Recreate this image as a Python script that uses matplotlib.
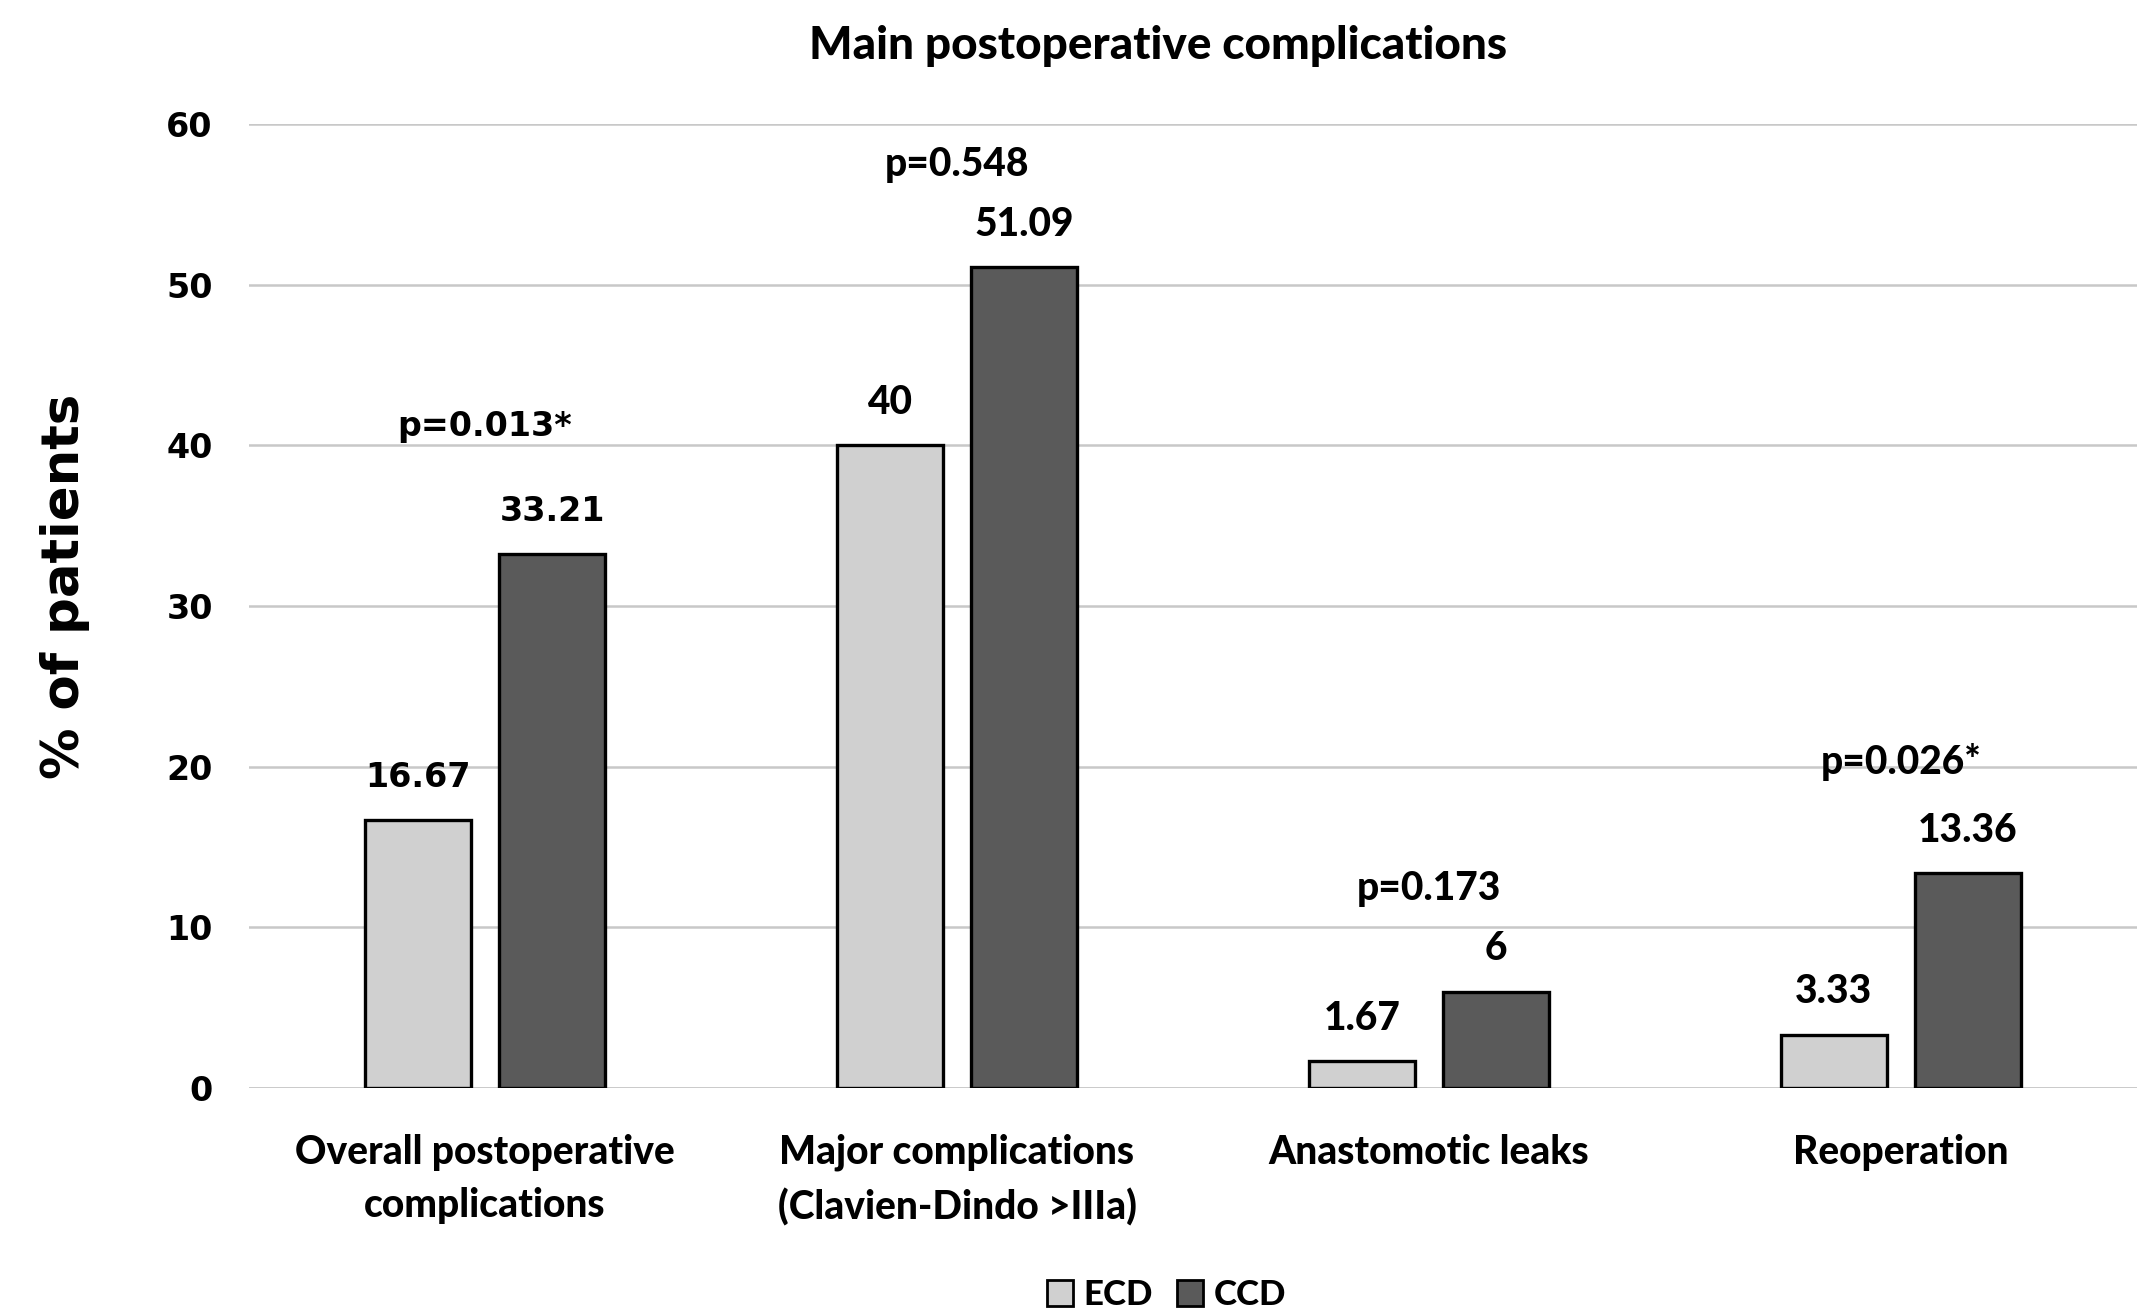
import matplotlib.pyplot as plt
import numpy as np

categories = ["Overall postoperative\ncomplications",
              "Major complications\n(Clavien-Dindo >IIIa)",
              "Anastomotic leaks",
              "Reoperation"]
ecd = [16.67, 40, 1.67, 3.33]
ccd = [33.21, 51.09, 6, 13.36]
p_values = ["p=0.013*", "p=0.548", "p=0.173", "p=0.026*"]
label_texts_ecd = ["16.67", "40", "1.67", "3.33"]
label_texts_ccd = ["33.21", "51.09", "6", "13.36"]

wide = "DejaVu Sans"   # Verdana-like glyphs
narrow = "Lato"        # Calibri-like glyphs
heavy = 900

fig = plt.figure(figsize=(21.37, 13.12), dpi=100)
ax = fig.add_axes([0.1165, 0.1707, 0.8835, 0.7348])

x = np.arange(len(categories))
w = 0.223
off = 0.142
ax.bar(x - off, ecd, w, color="#d0d0d0", edgecolor="black", linewidth=2.4, zorder=3, label="ECD")
ax.bar(x + off, ccd, w, color="#5a5a5a", edgecolor="black", linewidth=2.4, zorder=3, label="CCD")

ax.set_xlim(-0.5, 3.5)
ax.set_ylim(0, 60)
ax.set_yticks(np.arange(0, 61, 10))
ax.yaxis.grid(True, color="#c8c8c8", linewidth=1.8, zorder=0)
ax.set_axisbelow(True)
for s in ax.spines.values():
    s.set_visible(False)
ax.axhline(0, color="#c8c8c8", linewidth=1.8, zorder=1)
ax.tick_params(axis="both", length=0)
ax.tick_params(axis="y", pad=26)
for t in ax.get_yticklabels():
    t.set_fontfamily(wide)
    t.set_fontweight("bold")
    t.set_fontsize(24)

ax.set_xticks(x)
ax.set_xticklabels(categories, fontfamily=narrow, fontweight=heavy, fontsize=28,
                   linespacing=1.55)
ax.tick_params(axis="x", pad=33)

ax.set_ylabel("% of patients", fontfamily=wide, fontweight="bold", fontsize=37)
ax.yaxis.set_label_coords(-0.084, 0.52)

# value labels; first group uses the wider face
p_offsets = [92, 74, 74, 80]
for i in range(len(categories)):
    fam = wide if i == 0 else narrow
    fw = "bold" if i == 0 else heavy
    fs = 24 if i == 0 else 28
    ax.annotate(label_texts_ecd[i], (x[i] - off, ecd[i]), xytext=(0, 31), textcoords="offset points",
                ha="center", va="center", fontfamily=fam, fontweight=fw, fontsize=fs)
    ax.annotate(label_texts_ccd[i], (x[i] + off, ccd[i]), xytext=(0, 31), textcoords="offset points",
                ha="center", va="center", fontfamily=fam, fontweight=fw, fontsize=fs)
    top = max(ecd[i], ccd[i])
    ax.annotate(p_values[i], (x[i], top), xytext=(0, p_offsets[i]), textcoords="offset points",
                ha="center", va="center", fontfamily=fam, fontweight=fw, fontsize=fs)

fig.text(0.542, 0.965, "Main postoperative complications", ha="center", va="center",
         fontfamily=narrow, fontweight=heavy, fontsize=33)

leg = fig.legend(loc="center", bbox_to_anchor=(0.546, 0.013), ncol=2, frameon=False,
                 prop={"family": narrow, "weight": heavy, "size": 25},
                 handlelength=0.75, handleheight=0.75, handletextpad=0.3, columnspacing=0.7)
for h in leg.legend_handles:
    h.set_linewidth(2.0)

fig.savefig("out.png", dpi=100)
